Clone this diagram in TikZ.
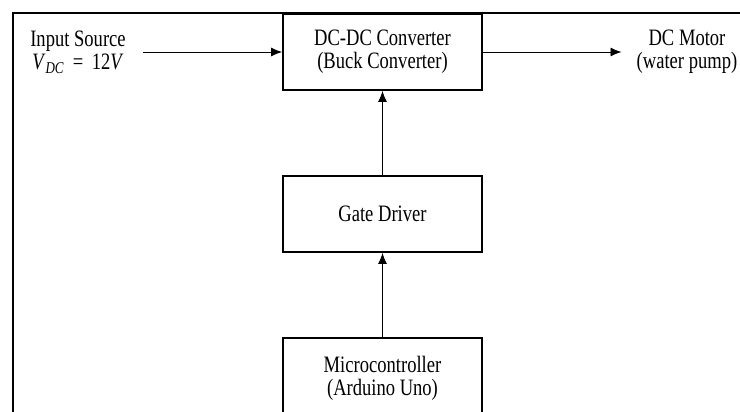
\documentclass[tikz,border=0pt]{standalone}
\usepackage{amsmath}
\usepackage{fontspec}
\setmainfont{Liberation Serif}[FakeStretch=0.79]
\usetikzlibrary{arrows.meta}

\tikzset{
  block/.style={draw=black, line width=1.8pt, minimum width=199pt, minimum height=76pt, align=center},
  label/.style={align=center, inner xsep=17pt},
  flow/.style={black, line width=0.9pt, -{Latex[length=11pt,width=9pt]}}
}

\begin{document}
\begin{tikzpicture}[x=1pt, y=-1pt, font=\fontsize{23.5}{23}\selectfont]
  \useasboundingbox (0,0) rectangle (740,412);
  \draw[black, line width=2pt] (13,412) -- (13,13) -- (740,13);
  \node[block] (conv) at (382.5,52) {DC-DC Converter\\(Buck Converter)};
  \node[block] (gate) at (382.5,214) {Gate Driver};
  \node[block, minimum height=80pt] (micro) at (382.5,378) {Microcontroller\\(Arduino Uno)};
  \node[label] (src) at (78,52) {Input Source\\\textit{V}\textsubscript{\textit{DC}}\ \,=\ \,12\textit{V}};
  \node[label, inner xsep=15pt] (motor) at (687,52) {DC Motor\\(water pump)};
  \draw[flow] (src.east) -- (conv.west);
  \draw[flow] (conv.east) -- (motor.west);
  \draw[flow] (gate.north) -- (conv.south);
  \draw[flow] (micro.north) -- (gate.south);
\end{tikzpicture}
\end{document}
